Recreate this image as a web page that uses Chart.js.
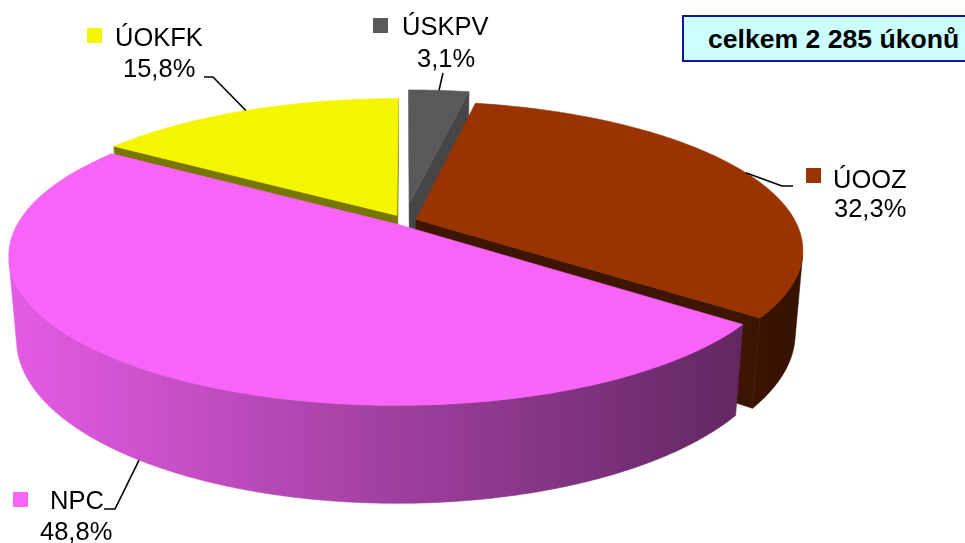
<!DOCTYPE html>
<html>
<head>
<meta charset="utf-8">
<script src="https://cdn.jsdelivr.net/npm/chart.js@4/dist/chart.umd.min.js"></script>
<style>
  html, body { margin: 0; padding: 0; background: #ffffff; }
  #wrap { position: relative; width: 965px; height: 543px; overflow: hidden; background: #ffffff; }
  #chart { position: absolute; left: 0; top: 0; }
  #total {
    position: absolute; left: 682px; top: 15px; width: 320px; height: 47px;
    box-sizing: border-box; border: 2px solid #14149a; background: #ccffff;
    font: bold 26.6px "Liberation Sans", Arial, sans-serif; color: #000;
    line-height: 44px; padding-left: 24px; white-space: nowrap;
  }
</style>
</head>
<body>
<div id="wrap">
  <canvas id="chart" width="965" height="543"></canvas>
  <div id="total"></div>
</div>
<script>
// ---------------- data ----------------
const categories   = ['ÚSKPV', 'ÚOOZ', 'NPC', 'ÚOKFK'];
const counts       = [71, 738, 1115, 361];
const percentTexts = ['3,1%', '32,3%', '48,8%', '15,8%'];
const totalText    = 'celkem 2 285 úkonů';

// ---------------- styles ----------------
const topColors  = ['#595959', '#993300', '#f863f8', '#f5f500'];
const sideColors = ['#464646', '#3d1500', '#66296a', '#767600'];
const explode    = [0.13, 0.031, 0.03, 0.045];

document.getElementById('total').textContent = totalText;

// 3D view (perspective) parameters
const view = { cx: 405, cy: 221, fx: 1737, fy: 1754, dist: 4.58, elev: 21.86, depth: 0.2335 };
const SIN = Math.sin(view.elev * Math.PI / 180), COS = Math.cos(view.elev * Math.PI / 180);

function project(X, Y, Z) {
  const d = view.dist + Z * COS - Y * SIN;
  return { x: view.cx + view.fx * X / d, y: view.cy - view.fy * (Y * COS + Z * SIN) / d };
}
function camDot(X, Z, nx, nz) {
  return -X * nx + (-view.dist * COS - Z) * nz;
}
function shade(hex, f) {
  const n = parseInt(hex.slice(1), 16);
  const r = Math.round(((n >> 16) & 255) * f), g = Math.round(((n >> 8) & 255) * f), b = Math.round((n & 255) * f);
  return 'rgb(' + r + ',' + g + ',' + b + ')';
}
function wallFactor(x) {
  return Math.max(0.2, Math.min(1, 0.92 - 0.00072 * (x - 10)));
}

function geometry(chart) {
  const meta = chart.getDatasetMeta(0);
  return meta.data.map((el, i) => {
    const p = el.getProps(['startAngle', 'endAngle'], true);
    const t0 = p.startAngle + Math.PI / 2, t1 = p.endAngle + Math.PI / 2;
    const tm = (t0 + t1) / 2;
    return { i, t0, t1, tm, ox: explode[i] * Math.sin(tm), oz: explode[i] * Math.cos(tm) };
  });
}
function rimPt(g, t, Y) { return project(g.ox + Math.sin(t), Y, g.oz + Math.cos(t)); }
function apexPt(g, Y) { return project(g.ox, Y, g.oz); }

function poly(ctx, pts, fill) {
  ctx.beginPath();
  pts.forEach((p, k) => k ? ctx.lineTo(p.x, p.y) : ctx.moveTo(p.x, p.y));
  ctx.closePath();
  ctx.fillStyle = fill;
  ctx.fill();
  ctx.strokeStyle = fill;
  ctx.lineWidth = 0.6;
  ctx.stroke();
}

function drawSlice(ctx, g) {
  const H = -view.depth;
  const i = g.i;
  // radial walls
  const walls = [
    { t: g.t0, nx: -Math.cos(g.t0), nz: Math.sin(g.t0) },
    { t: g.t1, nx: Math.cos(g.t1), nz: -Math.sin(g.t1) }
  ];
  walls.forEach(w => {
    const mx = g.ox + 0.5 * Math.sin(w.t), mz = g.oz + 0.5 * Math.cos(w.t);
    if (camDot(mx, mz, w.nx, w.nz) > 0) {
      poly(ctx, [apexPt(g, 0), rimPt(g, w.t, 0), rimPt(g, w.t, H), apexPt(g, H)], sideColors[i]);
    }
  });
  // outer curved wall
  const step = 0.4 * Math.PI / 180;
  const n = Math.max(2, Math.ceil((g.t1 - g.t0) / step));
  const ts = [];
  for (let k = 0; k <= n; k++) ts.push(g.t0 + (g.t1 - g.t0) * k / n);
  let run = [];
  const flush = () => {
    if (run.length > 1) {
      const pts = run.map(t => rimPt(g, t, 0)).concat(run.slice().reverse().map(t => rimPt(g, t, H)));
      const grad = ctx.createLinearGradient(0, 0, 965, 0);
      for (let x = 0; x <= 965; x += 965 / 10) grad.addColorStop(x / 965, shade(topColors[i], wallFactor(x)));
      poly(ctx, pts, grad);
    }
    run = [];
  };
  for (let k = 0; k < n; k++) {
    const tmid = (ts[k] + ts[k + 1]) / 2;
    const vis = camDot(g.ox + Math.sin(tmid), g.oz + Math.cos(tmid), Math.sin(tmid), Math.cos(tmid)) > 0;
    if (vis) { if (!run.length) run.push(ts[k]); run.push(ts[k + 1]); }
    else flush();
  }
  flush();
  // top face
  const top = [apexPt(g, 0)];
  for (let k = 0; k <= n; k++) top.push(rimPt(g, ts[k], 0));
  poly(ctx, top, topColors[i]);
}

const pie3d = {
  id: 'pie3d',
  beforeDatasetsDraw(chart) {
    const ctx = chart.ctx;
    const geo = geometry(chart);
    const order = geo.slice().sort((a, b) => (b.oz + 0.5 * Math.cos(b.tm)) - (a.oz + 0.5 * Math.cos(a.tm)));
    ctx.save();
    order.forEach(g => drawSlice(ctx, g));
    ctx.restore();
    return false;
  },
  afterDraw(chart) {
    const ctx = chart.ctx;
    const geo = geometry(chart);
    const layout = {
      'ÚOKFK': { sq: [87, 28], name: [115, 46], pct: [123, 77], lead: [[204, 77], [213, 77]], bottom: false },
      'ÚSKPV': { sq: [373, 18], name: [402, 35], pct: [417, 67], lead: [[443, 73]], bottom: false },
      'ÚOOZ':  { sq: [806, 168], name: [833, 188], pct: [834, 217], lead: [[793, 186], [782, 186]], bottom: false },
      'NPC':   { sq: [13, 492], name: [50, 509], pct: [40, 540], lead: [[104, 509], [115, 509]], bottom: true }
    };
    ctx.save();
    ctx.font = '25.5px "Liberation Sans", Arial, sans-serif';
    ctx.textBaseline = 'alphabetic';
    ctx.textAlign = 'left';
    geo.forEach(g => {
      const L = layout[categories[g.i]];
      const end = rimPt(g, g.tm, L.bottom ? -view.depth : 0);
      ctx.beginPath();
      L.lead.forEach((p, k) => k ? ctx.lineTo(p[0], p[1]) : ctx.moveTo(p[0], p[1]));
      ctx.lineTo(end.x, end.y);
      ctx.strokeStyle = '#000';
      ctx.lineWidth = 1.6;
      ctx.stroke();
      ctx.fillStyle = topColors[g.i];
      ctx.fillRect(L.sq[0], L.sq[1], 15, 15);
      ctx.fillStyle = '#000';
      ctx.fillText(categories[g.i], L.name[0], L.name[1]);
      ctx.fillText(percentTexts[g.i], L.pct[0], L.pct[1]);
    });
    ctx.restore();
  }
};

new Chart(document.getElementById('chart'), {
  type: 'pie',
  data: {
    labels: categories,
    datasets: [{ data: counts, backgroundColor: topColors, borderWidth: 0 }]
  },
  options: {
    responsive: false,
    animation: false,
    events: [],
    rotation: 0,
    plugins: { legend: { display: false }, tooltip: { enabled: false }, title: { display: false } }
  },
  plugins: [pie3d]
});
</script>
</body>
</html>
